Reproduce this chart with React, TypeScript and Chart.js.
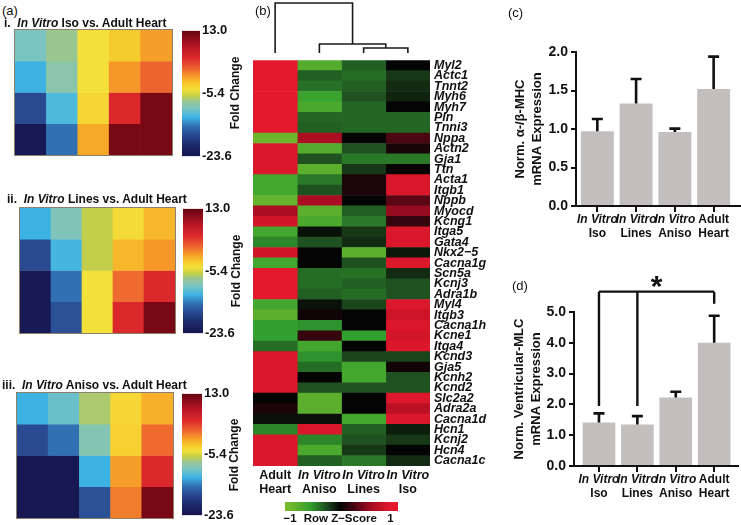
import React, { useEffect, useRef } from "react";
import { Chart, registerables } from "chart.js";

Chart.register(...registerables);

const FONT = "'Liberation Sans', Arial, Helvetica, sans-serif";
Chart.defaults.font.family = FONT;

// ---------------- Panel (a): fold-change heatmaps ----------------
const foldMin = -23.6;
const foldMax = 13.0;
const foldTickValues = [-23.6, -5.4, 13.0];
const heatColumns = ["1", "2", "3", "4", "5"];
const isoVsAdult = [
  [-9.7, -7.5, -4.2, -2.7, -0.5],
  [-12.3, -8.6, -4.2, -0.2, 2.0],
  [-17.4, -11.5, -3.5, 5.3, 11.9],
  [-22.9, -14.8, -0.9, 11.9, 11.9],
];
const linesVsAdult = [
  [-12.3, -9.3, -6.0, -3.8, -1.6],
  [-17.4, -11.9, -6.0, -1.6, -0.2],
  [-22.9, -14.8, -4.2, 1.7, 5.3],
  [-22.9, -17.0, -4.2, 5.3, 11.9],
];
const anisoVsAdult = [
  [-12.3, -10.4, -6.8, -3.5, -1.3],
  [-17.4, -14.8, -9.0, -3.1, 1.7],
  [-23.2, -23.2, -12.3, -0.5, 5.3],
  [-23.2, -23.2, -17.0, 0.9, 11.9],
];

// ---------------- Panel (b): row z-score heatmap ----------------
const genes = [
  "Myl2", "Actc1", "Tnnt2", "Myh6", "Myh7", "Pln", "Tnni3", "Nppa", "Actn2", "Gja1",
  "Ttn", "Acta1", "Itgb1", "Nppb", "Myocd", "Kcng1", "Itga5", "Gata4", "Nkx2\u22125", "Cacna1g",
  "Scn5a", "Kcnj3", "Adra1b", "Myl4", "Itgb3", "Cacna1h", "Kcne1", "Itga4", "Kcnd3", "Gja5",
  "Kcnh2", "Kcnd2", "Slc2a2", "Adra2a", "Cacna1d", "Hcn1", "Kcnj2", "Hcn4", "Cacna1c",
];
const zAdultHeart = [
  1, 1, 1, 1, 1, 1, 1, -0.95, 0.95, 0.95,
  0.95, -0.7, -0.7, -0.9, 0.65, 0.9, -0.7, -0.5, 0.9, -0.7,
  1, 1, 1, -0.7, -0.85, -0.6, -0.6, -0.4, 0.95, 0.95,
  0.95, 0.95, 0, 0.1, -0.05, -0.5, 0.95, 0.95, 0.95,
];
const zAniso = [
  -0.8, -0.35, -0.42, -0.65, -0.75, -0.38, -0.35, 0.65, -0.8, -0.3,
  -0.85, -0.45, -0.3, 0.65, -0.85, -0.75, -0.05, -0.3, 0, 0,
  -0.4, -0.4, -0.35, -0.05, 0.05, -0.55, 0.2, -0.7, -0.55, -0.4,
  0, -0.3, -0.85, -0.85, -0.05, 0.95, -0.5, -0.75, -0.35,
];
const zLines = [
  -0.35, -0.4, -0.35, -0.3, -0.38, -0.38, -0.38, 0, -0.3, -0.45,
  -0.2, 0.1, 0.1, 0, -0.35, -0.45, -0.2, -0.15, -0.85, -0.3,
  -0.42, -0.35, -0.4, -0.25, 0, 0, -0.6, 0, -0.25, -0.7,
  -0.7, -0.3, 0, 0, -0.7, -0.35, -0.3, -0.2, -0.45,
];
const zIso = [
  0, -0.2, -0.15, -0.12, 0, -0.38, -0.38, 0.3, 0.08, -0.45,
  0, 0.95, 0.95, 0.35, 0.55, 0.2, 0.95, 0.95, -0.08, 0.95,
  -0.15, -0.3, -0.3, 0.95, 0.85, 0.95, 0.9, 0.95, -0.25, 0.05,
  -0.3, -0.3, 0.95, 0.75, 0.95, -0.1, -0.2, 0, -0.15,
];
const zColumnTop = ["Adult", "In Vitro", "In Vitro", "In Vitro"];
const zColumnBottom = ["Heart", "Aniso", "Lines", "Iso"];
const zColumnItalic = [false, true, true, true];
const zKeyMin = -1.1;
const zKeyMax = 1.15;
const zKeyTicks = [-1, 0, 1];
const zKeyLabels = ["\u22121", "Row Z\u2212Score", "1"];
// dendrogram merges (x in column units, heights relative)
const dendroLeftX = [2.5, 1.5, 0.5];
const dendroLeftH = [0, 0, 0];
const dendroRightX = [3.5, 3.0, 2.25];
const dendroRightH = [0, 0.1, 0.18];
const dendroHeight = [0.1, 0.18, 1.0];

// ---------------- Panels (c) and (d) ----------------
const groupTop = ["In Vitro", "In Vitro", "In Vitro", "Adult"];
const groupBottom = ["Iso", "Lines", "Aniso", "Heart"];
const groupItalic = [true, true, true, false];
const mhcRatio = [0.97, 1.33, 0.96, 1.52];
const mhcErr = [0.16, 0.32, 0.045, 0.42];
const vmlcExpr = [1.41, 1.35, 2.22, 4.0];
const vmlcErr = [0.3, 0.27, 0.19, 0.88];
const sigFrom = [0, 1];
const sigTo = 3;
const sigLevel = 5.66;
const sigFootFrom = 1.95;
const sigFootTo = 5.27;

// ---------------- colour maps ----------------
const foldStops: [number, string][] = [
  [0.0, "#16164e"], [0.09, "#1d2a6c"], [0.17, "#294a90"], [0.24, "#3170b3"],
  [0.31, "#3cb4e4"], [0.38, "#7ac4c2"], [0.44, "#9ac68f"], [0.48, "#c2cf4a"],
  [0.53, "#f4e03a"], [0.58, "#f7c72b"], [0.63, "#f6a028"], [0.69, "#ee6b2e"],
  [0.78, "#df2a2c"], [0.87, "#b81626"], [1.0, "#660410"],
];
const zStops: [number, string][] = [
  [-1, "#74b82c"], [-0.6, "#32a02f"], [-0.3, "#1f5220"], [0, "#040404"],
  [0.3, "#4c0612"], [0.6, "#a30c22"], [1, "#e3182c"],
];
const BAR_GRAY = "#c4bfbf";
const INK = "#111111";

function hexRgb(c: string) {
  const n = parseInt(c.slice(1), 16);
  return [(n >> 16) & 255, (n >> 8) & 255, n & 255];
}
function lerpStops(stops: [number, string][], v: number) {
  if (v <= stops[0][0]) return stops[0][1];
  for (let i = 1; i < stops.length; i++) {
    if (v <= stops[i][0]) {
      const [a, ca] = stops[i - 1];
      const [b, cb] = stops[i];
      const t = (v - a) / (b - a);
      const A = hexRgb(ca);
      const B = hexRgb(cb);
      const m = (k: number) => Math.round(A[k] + (B[k] - A[k]) * t);
      return `rgb(${m(0)},${m(1)},${m(2)})`;
    }
  }
  return stops[stops.length - 1][1];
}
const foldColor = (v: number) => lerpStops(foldStops, (v - foldMin) / (foldMax - foldMin));
const zColor = (v: number) => lerpStops(zStops, v);

function baseOptions(): any {
  return {
    animation: false,
    responsive: false,
    maintainAspectRatio: false,
    events: [],
    plugins: { legend: { display: false }, tooltip: { enabled: false } },
  };
}

const framePlugin = {
  id: "frame",
  afterDraw(chart: any) {
    const { ctx, chartArea: a } = chart;
    ctx.save();
    ctx.strokeStyle = "#8c806c";
    ctx.lineWidth = 1;
    ctx.strokeRect(a.left - 0.5, a.top - 0.5, a.right - a.left + 1, a.bottom - a.top + 1);
    ctx.restore();
  },
};

function foldHeatmapConfig(values: number[][]): any {
  return {
    type: "bar",
    data: {
      labels: heatColumns,
      datasets: values.map((row, r) => ({
        data: row.map((v, ci) => ({ x: heatColumns[ci], y: [r, r + 1], v })),
        backgroundColor: (ctx: any) => foldColor(ctx.raw ? ctx.raw.v : 0),
        borderWidth: 0,
        grouped: false,
        barPercentage: 1,
        categoryPercentage: 1,
      })),
    },
    options: {
      ...baseOptions(),
      layout: { padding: 1 },
      scales: {
        x: { display: false },
        y: { display: false, min: 0, max: 4, reverse: true },
      },
    },
    plugins: [framePlugin],
  };
}

function colorbarConfig(): any {
  return {
    type: "bar",
    data: {
      labels: ["Fold Change"],
      datasets: [
        {
          data: [[foldMin, foldMax]],
          backgroundColor: (ctx: any) => {
            const chart = ctx.chart;
            const ys = chart.scales && chart.scales.y;
            if (!chart.chartArea || !ys) return foldColor(0);
            const g = chart.ctx.createLinearGradient(0, ys.getPixelForValue(foldMin), 0, ys.getPixelForValue(foldMax));
            foldStops.forEach(([t, col]) => g.addColorStop(t, col));
            return g;
          },
          borderWidth: 0,
          barPercentage: 1,
          categoryPercentage: 1,
        },
      ],
    },
    options: {
      ...baseOptions(),
      layout: { padding: { top: 9, bottom: 9, left: 0, right: 0 } },
      scales: {
        x: { display: false },
        y: {
          position: "right",
          min: foldMin,
          max: foldMax,
          grid: { display: false, drawTicks: false, tickLength: 0 },
          border: { display: false },
          afterBuildTicks: (s: any) => {
            s.ticks = foldTickValues.map((v) => ({ value: v }));
          },
          afterFit: (s: any) => {
            s.width = 44;
          },
          ticks: {
            color: INK,
            padding: 2,
            font: { family: FONT, size: 13, weight: "bold" },
            callback: (v: any) => Number(v).toFixed(1),
          },
        },
      },
    },
  };
}

const colLabelPlugin = {
  id: "colLabels",
  afterDraw(chart: any) {
    const { ctx, chartArea: a, scales } = chart;
    const xs = scales.x;
    ctx.save();
    ctx.fillStyle = INK;
    ctx.textAlign = "center";
    ctx.textBaseline = "middle";
    zColumnTop.forEach((t, i) => {
      const px = xs.getPixelForValue(i + 0.5);
      ctx.font = `${zColumnItalic[i] ? "italic " : ""}bold 12.5px ${FONT}`;
      ctx.fillText(t, px, a.bottom + 10);
      ctx.font = `bold 12.5px ${FONT}`;
      ctx.fillText(zColumnBottom[i], px, a.bottom + 24);
    });
    ctx.restore();
  },
};

function zHeatmapConfig(): any {
  const cols = [zAdultHeart, zAniso, zLines, zIso];
  return {
    type: "bar",
    data: {
      labels: genes,
      datasets: cols.map((col, ci) => ({
        data: genes.map((g, gi) => ({ y: g, x: [ci, ci + 1], v: col[gi] })),
        backgroundColor: (ctx: any) => zColor(ctx.raw ? ctx.raw.v : 0),
        borderWidth: 0,
        grouped: false,
        barPercentage: 1,
        categoryPercentage: 1,
      })),
    },
    options: {
      ...baseOptions(),
      indexAxis: "y",
      layout: { padding: { top: 5, bottom: 34, left: 0, right: 0 } },
      scales: {
        x: { display: false, min: 0, max: 4 },
        y: {
          position: "right",
          grid: { display: false, drawTicks: false, tickLength: 0 },
          border: { display: false },
          afterFit: (s: any) => {
            s.width = 65;
          },
          ticks: {
            autoSkip: false,
            padding: 4,
            color: INK,
            font: { family: FONT, size: 12.5, weight: "bold", style: "italic", lineHeight: 1 },
          },
        },
      },
    },
    plugins: [colLabelPlugin],
  };
}

function dendroConfig(): any {
  return {
    type: "scatter",
    data: {
      datasets: dendroHeight.map((h, i) => ({
        data: [
          { x: dendroLeftX[i], y: dendroLeftH[i] },
          { x: dendroLeftX[i], y: h },
          { x: dendroRightX[i], y: h },
          { x: dendroRightX[i], y: dendroRightH[i] },
        ],
        showLine: true,
        pointRadius: 0,
        borderColor: "#1a1a1a",
        borderWidth: 1.6,
        clip: false,
        tension: 0,
      })),
    },
    options: {
      ...baseOptions(),
      layout: { padding: { top: 3, bottom: 3, left: 0, right: 0 } },
      scales: {
        x: { display: false, min: 0, max: 4 },
        y: { display: false, min: 0, max: 1 },
      },
    },
  };
}

function zKeyConfig(): any {
  return {
    type: "bar",
    data: {
      labels: ["key"],
      datasets: [
        {
          data: [[zKeyMin, zKeyMax]],
          backgroundColor: (ctx: any) => {
            const chart = ctx.chart;
            const xs = chart.scales && chart.scales.x;
            if (!chart.chartArea || !xs) return zColor(0);
            const g = chart.ctx.createLinearGradient(xs.getPixelForValue(-1), 0, xs.getPixelForValue(1), 0);
            zStops.forEach(([v, col]) => g.addColorStop((v + 1) / 2, col));
            return g;
          },
          borderWidth: 0,
          barPercentage: 1,
          categoryPercentage: 1,
        },
      ],
    },
    options: {
      ...baseOptions(),
      indexAxis: "y",
      layout: { padding: { left: 5, right: 7, top: 4, bottom: 0 } },
      scales: {
        y: { display: false },
        x: {
          min: zKeyMin,
          max: zKeyMax,
          grid: { display: false, drawTicks: false, tickLength: 0 },
          border: { display: false },
          afterBuildTicks: (s: any) => {
            s.ticks = zKeyTicks.map((v) => ({ value: v }));
          },
          afterFit: (s: any) => {
            s.height = 14;
          },
          ticks: {
            autoSkip: false,
            padding: 1,
            maxRotation: 0,
            minRotation: 0,
            color: INK,
            font: { family: FONT, size: 11.5, weight: "bold" },
            callback: (_v: any, i: number) => zKeyLabels[i],
          },
        },
      },
    },
  };
}

const errorBarPlugin = {
  id: "errorBars",
  afterDatasetsDraw(chart: any, _a: any, opts: any) {
    const { ctx, scales } = chart;
    const xs = scales.x;
    const ys = scales.y;
    ctx.save();
    ctx.strokeStyle = INK;
    ctx.lineWidth = 2.6;
    ctx.lineCap = "butt";
    (opts.values as number[]).forEach((v, i) => {
      const px = xs.getPixelForValue(i);
      const y0 = ys.getPixelForValue(v);
      const y1 = ys.getPixelForValue(v + opts.errors[i]);
      ctx.beginPath();
      ctx.moveTo(px, y0);
      ctx.lineTo(px, y1 - 1.3);
      ctx.moveTo(px - 5.5, y1);
      ctx.lineTo(px + 5.5, y1);
      ctx.stroke();
    });
    ctx.restore();
  },
};

const groupLabelPlugin = {
  id: "groupLabels",
  afterDraw(chart: any) {
    const { ctx, chartArea: a, scales } = chart;
    const xs = scales.x;
    ctx.save();
    ctx.fillStyle = INK;
    ctx.textAlign = "center";
    ctx.textBaseline = "middle";
    groupTop.forEach((t, i) => {
      const px = xs.getPixelForValue(i);
      ctx.font = `${groupItalic[i] ? "italic " : ""}bold 12px ${FONT}`;
      ctx.fillText(t, px, a.bottom + 14);
      ctx.font = `bold 12px ${FONT}`;
      ctx.fillText(groupBottom[i], px, a.bottom + 27.5);
    });
    ctx.restore();
  },
};

const sigPlugin = {
  id: "significance",
  afterDatasetsDraw(chart: any) {
    const { ctx, scales } = chart;
    const xs = scales.x;
    const ys = scales.y;
    const yb = ys.getPixelForValue(sigLevel);
    const xEnd = xs.getPixelForValue(sigTo);
    const xStart = xs.getPixelForValue(sigFrom[0]);
    ctx.save();
    ctx.strokeStyle = INK;
    ctx.lineWidth = 2.4;
    ctx.beginPath();
    ctx.moveTo(xStart, yb);
    ctx.lineTo(xEnd, yb);
    sigFrom.forEach((g) => {
      const px = xs.getPixelForValue(g);
      ctx.moveTo(px, yb);
      ctx.lineTo(px, ys.getPixelForValue(sigFootFrom));
    });
    ctx.moveTo(xEnd, yb);
    ctx.lineTo(xEnd, ys.getPixelForValue(sigFootTo));
    ctx.stroke();
    ctx.fillStyle = INK;
    ctx.textAlign = "center";
    ctx.textBaseline = "alphabetic";
    ctx.font = `bold 30px ${FONT}`;
    ctx.fillText("*", (xStart + xEnd) / 2, yb + 4);
    ctx.restore();
  },
};

function barConfig(values: number[], errors: number[], yMax: number, step: number, title: string[], xMin: number, xMax: number, axisWidth: number, padding: any, withSig: boolean): any {
  const plugins: any[] = [errorBarPlugin, groupLabelPlugin];
  if (withSig) plugins.push(sigPlugin);
  return {
    type: "bar",
    data: {
      datasets: [
        {
          data: values.map((v, i) => ({ x: i, y: v })),
          backgroundColor: BAR_GRAY,
          borderWidth: 0,
          barPercentage: 0.85,
          categoryPercentage: 1,
        },
      ],
    },
    options: {
      ...baseOptions(),
      layout: { padding },
      plugins: {
        legend: { display: false },
        tooltip: { enabled: false },
        errorBars: { values, errors },
      },
      scales: {
        x: {
          type: "linear",
          min: xMin,
          max: xMax,
          offset: false,
          grid: { display: true, offset: false, drawOnChartArea: false, drawTicks: true, tickLength: 6, color: INK, lineWidth: 2 },
          border: { display: true, color: INK, width: 2 },
          ticks: { display: false },
          afterBuildTicks: (s: any) => {
            s.ticks = values.map((_v, i) => ({ value: i }));
          },
          afterFit: (s: any) => {
            s.height = 8;
          },
        },
        y: {
          min: 0,
          max: yMax,
          grid: { display: true, drawOnChartArea: false, drawTicks: true, tickLength: 5, color: INK, lineWidth: 2 },
          border: { display: true, color: INK, width: 2 },
          ticks: {
            stepSize: step,
            color: INK,
            padding: 3,
            font: { family: FONT, size: 14, weight: "bold" },
            callback: (v: any) => Number(v).toFixed(1),
          },
          title: {
            display: true,
            text: title,
            color: INK,
            padding: { top: 4, bottom: 0 },
            font: { family: FONT, size: 13, weight: "bold", lineHeight: 1.3 },
          },
          afterFit: (s: any) => {
            s.width = axisWidth;
          },
        },
      },
    },
    plugins,
  };
}

const CANVASES = [
  { l: 14, t: 29, w: 159, h: 127 }, // heat i
  { l: 19, t: 207, w: 157, h: 127 }, // heat ii
  { l: 16, t: 392, w: 158, h: 127 }, // heat iii
  { l: 182, t: 21, w: 62, h: 145 }, // colorbar i
  { l: 183, t: 199, w: 64, h: 144 }, // colorbar ii
  { l: 182, t: 384, w: 64, h: 141 }, // colorbar iii
  { l: 253, t: 0, w: 177, h: 56 }, // dendrogram
  { l: 253, t: 50, w: 242, h: 450 }, // z heatmap
  { l: 280, t: 498, w: 125, h: 27 }, // z key
  { l: 508, t: 40, w: 233, h: 202 }, // (c)
  { l: 507, t: 268, w: 234, h: 236 }, // (d)
];

function Txt(props: { x: number; y: number; size?: number; bold?: boolean; center?: boolean; rotate?: boolean; children: any }) {
  const { x, y, size = 12, bold = false, center = false, rotate = false, children } = props;
  const tf = rotate ? "translate(-50%, -50%) rotate(-90deg)" : `translate(${center ? "-50%" : "0"}, -50%)`;
  return (
    <div
      style={{
        position: "absolute",
        left: x,
        top: y,
        transform: tf,
        font: `${bold ? "bold " : ""}${size}px ${FONT}`,
        lineHeight: 1,
        whiteSpace: "nowrap",
        color: INK,
      }}
    >
      {children}
    </div>
  );
}

export default function App() {
  const refs = useRef<(HTMLCanvasElement | null)[]>([]);

  useEffect(() => {
    const c = refs.current;
    const configs = [
      foldHeatmapConfig(isoVsAdult),
      foldHeatmapConfig(linesVsAdult),
      foldHeatmapConfig(anisoVsAdult),
      colorbarConfig(),
      colorbarConfig(),
      colorbarConfig(),
      dendroConfig(),
      zHeatmapConfig(),
      zKeyConfig(),
      barConfig(mhcRatio, mhcErr, 2, 0.5, ["Norm. \u03b1-/\u03b2-MHC", "mRNA Expression"], -0.55, 3.68, 68, { left: 0, top: 12, right: 1, bottom: 28 }, false),
      barConfig(vmlcExpr, vmlcErr, 5, 1, ["Norm. Ventricular-MLC", "mRNA Expression"], -0.65, 3.62, 67, { left: 0, top: 44, right: 3, bottom: 30 }, true),
    ];
    const charts = configs.map((cfg, i) => new Chart(c[i] as HTMLCanvasElement, cfg));
    return () => charts.forEach((ch) => ch.destroy());
  }, []);

  return (
    <div style={{ position: "fixed", left: 0, top: 0, width: 741, height: 525, background: "#ffffff", overflow: "hidden" }}>
      {CANVASES.map((b, i) => (
        <canvas
          key={i}
          ref={(el) => {
            refs.current[i] = el;
          }}
          width={b.w}
          height={b.h}
          style={{ position: "absolute", left: b.l, top: b.t, width: b.w, height: b.h }}
        />
      ))}
      <Txt x={2} y={10} size={13}>(a)</Txt>
      <Txt x={4} y={23} size={12} bold>
        i.&nbsp; <i>In Vitro</i> Iso vs. Adult Heart
      </Txt>
      <Txt x={7} y={199} size={12} bold>
        ii.&nbsp; <i>In Vitro</i> Lines vs. Adult Heart
      </Txt>
      <Txt x={2} y={385} size={12} bold>
        iii.&nbsp; <i>In Vitro</i> Aniso vs. Adult Heart
      </Txt>
      <Txt x={235} y={93} size={12} bold rotate>Fold Change</Txt>
      <Txt x={236} y={271} size={12} bold rotate>Fold Change</Txt>
      <Txt x={234} y={455} size={12} bold rotate>Fold Change</Txt>
      <Txt x={255} y={10} size={13}>(b)</Txt>
      <Txt x={508} y={12} size={13}>(c)</Txt>
      <Txt x={512} y={285} size={13}>(d)</Txt>
    </div>
  );
}
